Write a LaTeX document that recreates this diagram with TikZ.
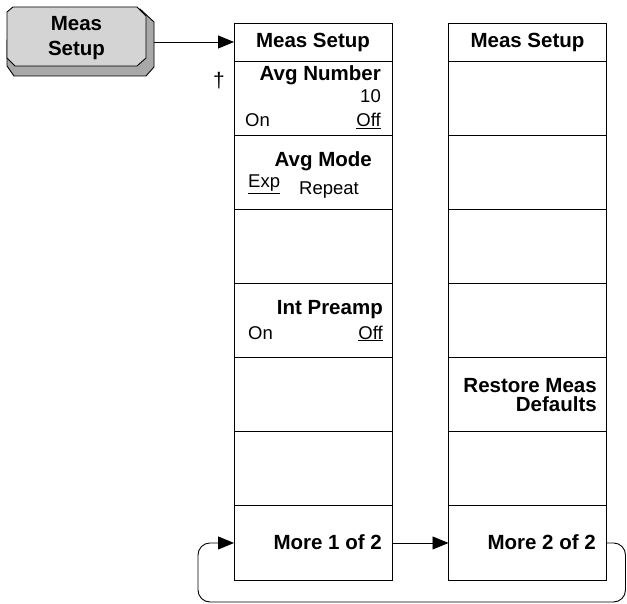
\documentclass[tikz,border=0pt]{standalone}
\usepackage{fontspec}
\setmainfont{Liberation Sans}
\usetikzlibrary{arrows.meta,positioning}
\definecolor{cface}{RGB}{212,212,212}
\definecolor{cshade}{RGB}{168,168,168}
\newcommand{\bfnt}{\fontsize{20.5}{25}\selectfont\bfseries}
\newcommand{\rgnt}{\fontsize{18.5}{22}\selectfont}

\begin{document}
\begin{tikzpicture}[x=1pt, y=-1pt,
    key/.style={draw, line width=0.9pt, minimum width=158pt, minimum height=74.15pt,
                outer sep=0pt, inner sep=0pt},
    hdr/.style={key, minimum height=38pt, font=\bfnt},
    bl/.style={font=\bfnt, inner sep=0pt},
    rg/.style={font=\rgnt, inner sep=0pt},
    arr/.style={-{Triangle[length=16pt,width=13pt]}, line width=0.9pt}]
    \useasboundingbox (0,0) rectangle (627,604);

    % hard key
    \filldraw[fill=cshade, line width=0.9pt, line join=round]
      (140,9) -- (154,22) -- (154,67) -- (146,76) -- (14,76) -- (7,66) -- (7,40) -- cycle;
    \filldraw[fill=cface, line width=0.9pt, line join=round]
      (13,7) -- (137,7) -- (146,16) -- (146,58) -- (137,66) -- (15,66) -- (7,58) -- (7,12) -- cycle;
    \node[font=\bfnt, align=center, inner sep=0pt, minimum width=139pt] (btn) at (76.5,38.5) {Meas\\Setup};

    % first menu
    \node[hdr] (hdra) at (313,42) {Meas Setup};
    \node[key, below=0pt of hdra] (a1) {};
    \node[key, below=0pt of a1] (a2) {};
    \node[key, below=0pt of a2] (a3) {};
    \node[key, below=0pt of a3] (a4) {};
    \node[key, below=0pt of a4] (a5) {};
    \node[key, below=0pt of a5] (a6) {};
    \node[key, below=0pt of a6] (a7) {};

    \node[font=\fontsize{21}{22}\selectfont, inner sep=0pt, anchor=base] (dag) at (219,88) {†};
    \node[bl, anchor=base east] (avgnum) at (381,81) {Avg Number};
    \node[rg, anchor=base east] (avgval) at (381,103) {10};
    \node[rg, anchor=base west] (avgon) at (245,127) {On};
    \node[rg, anchor=base east] (avgoff) at (381,127) {\underline{Off}};
    \node[bl, anchor=base east] (mode) at (372,167) {Avg Mode};
    \node[rg, anchor=base west] (modeexp) at (248,188) {\underline{Exp}};
    \node[rg, anchor=base west] (moderep) at (299,195) {Repeat};
    \node[bl, anchor=base east] (pre) at (383,315) {Int Preamp};
    \node[rg, anchor=base west] (preon) at (248,339) {On};
    \node[rg, anchor=base east] (preoff) at (383,339) {\underline{Off}};
    \node[bl, anchor=base east] (more1) at (382,549) {More 1 of 2};

    % second menu
    \node[hdr] (hdrb) at (527.5,42) {Meas Setup};
    \node[key, below=0pt of hdrb] (b1) {};
    \node[key, below=0pt of b1] (b2) {};
    \node[key, below=0pt of b2] (b3) {};
    \node[key, below=0pt of b3] (b4) {};
    \node[key, below=0pt of b4] (b5) {};
    \node[key, below=0pt of b5] (b6) {};
    \node[key, below=0pt of b6] (b7) {};

    \node[bl, anchor=base east] (restore) at (597,392) {Restore Meas};
    \node[bl, anchor=base east] (defaults) at (597,411) {Defaults};
    \node[bl, anchor=base east] (more2) at (596,549) {More 2 of 2};

    % arrows
    \coordinate (loopR) at (625.5,602);
    \coordinate (loopL) at (198,602);
    \draw[arr] ([xshift=8pt]btn.east |- hdra.west) -- (hdra.west);
    \draw[arr] (a7.east) -- (b7.west);
    \draw[arr, rounded corners=12pt] (b7.east) -| (loopR) -| (loopL |- a7.west) -- (a7.west);
\end{tikzpicture}
\end{document}
